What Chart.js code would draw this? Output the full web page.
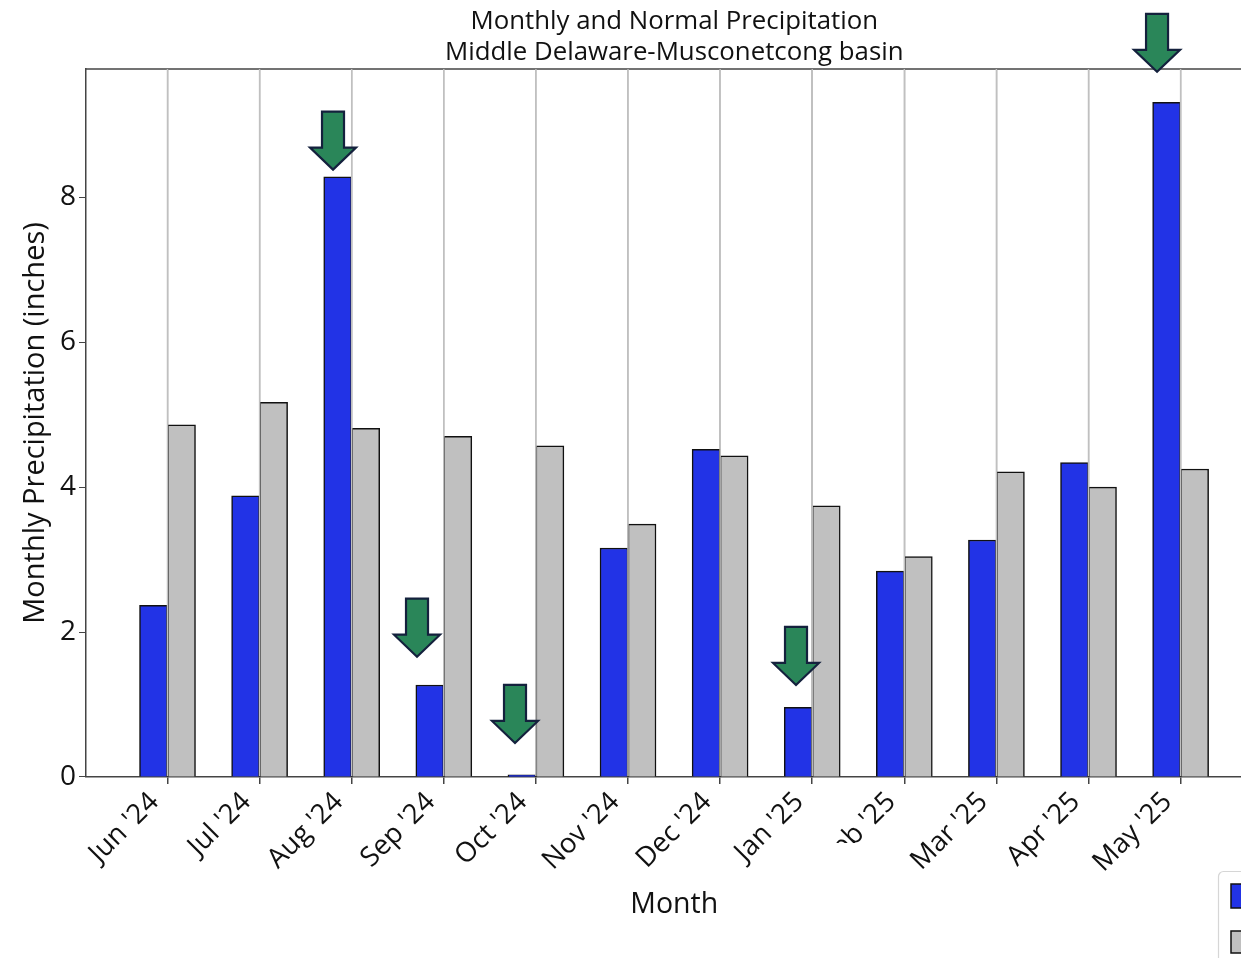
<!DOCTYPE html>
<html>
<head>
<meta charset="utf-8">
<title>Monthly and Normal Precipitation</title>
<script src="https://cdn.jsdelivr.net/npm/chart.js@4"></script>
<style>
  html, body { margin: 0; padding: 0; background: #fff; overflow: hidden; width: 1241px; height: 958px; }
  canvas { display: block; }
</style>
</head>
<body>
<canvas id="grafico" width="1300" height="1000"></canvas>
<script>
const meses = ["Jun '24", "Jul '24", "Aug '24", "Sep '24", "Oct '24", "Nov '24", "Dec '24", "Jan '25", "Feb '25", "Mar '25", "Apr '25", "May '25"];
const mensual = [2.37, 3.88, 8.28, 1.27, 0.03, 3.16, 4.52, 0.96, 2.84, 3.27, 4.34, 9.31];
const normal = [4.86, 5.17, 4.81, 4.70, 4.57, 3.49, 4.43, 3.74, 3.04, 4.21, 4.00, 4.25];
const valoresY = [0, 2, 4, 6, 8];

// flechas: punta de cada una en unidades de los ejes
const flechaX = [1.797, 2.709, 3.773, 6.824, 10.744];
const flechaY = [8.38, 1.66, 0.47, 1.27, 9.73];

const fuente = '"Open Sans", sans-serif';

const marco = {
  id: 'marco',
  // linea superior del marco
  beforeDatasetsDraw(chart) {
    const { ctx, chartArea } = chart;
    ctx.save();
    ctx.strokeStyle = '#444';
    ctx.lineWidth = 1.5;
    ctx.beginPath();
    ctx.moveTo(chartArea.left, chartArea.top);
    ctx.lineTo(chartArea.right, chartArea.top);
    ctx.stroke();
    ctx.restore();
  },
  // las lineas de la grilla pasan por encima de las barras
  afterDatasetsDraw(chart) {
    const { ctx, chartArea, scales } = chart;
    ctx.save();
    ctx.strokeStyle = '#c0c0c0';
    ctx.lineWidth = 1.5;
    meses.forEach((m, i) => {
      const x = scales.x.getPixelForValue(i);
      ctx.beginPath();
      ctx.moveTo(x, chartArea.top);
      ctx.lineTo(x, chartArea.bottom - 1);
      ctx.stroke();
    });
    ctx.restore();
  }
};

// la imagen original tapa parte de la etiqueta de febrero, y trae la leyenda cortada
const recortes = {
  id: 'recortes',
  afterDraw(chart) {
    const ctx = chart.ctx;
    ctx.save();
    ctx.fillStyle = '#fff';
    ctx.fillRect(790, 843, 100, 40);

    ctx.strokeStyle = '#d6d6d6';
    ctx.lineWidth = 1.2;
    ctx.beginPath();
    ctx.roundRect(1218.5, 871.5, 200, 120, 5);
    ctx.fillStyle = '#fff';
    ctx.fill();
    ctx.stroke();

    const ds = chart.data.datasets;
    ctx.strokeStyle = '#111';
    ctx.lineWidth = 1.5;
    ctx.fillStyle = ds[0].backgroundColor;
    ctx.fillRect(1231, 884, 40, 24);
    ctx.strokeRect(1231, 884, 40, 24);
    ctx.fillStyle = ds[1].backgroundColor;
    ctx.fillRect(1231, 931, 40, 22);
    ctx.strokeRect(1231, 931, 40, 22);
    ctx.restore();
  }
};

const flechas = {
  id: 'flechas',
  afterDraw(chart) {
    const { ctx, scales } = chart;
    ctx.save();
    ctx.fillStyle = '#2a8659';
    ctx.strokeStyle = '#14213d';
    ctx.lineWidth = 2.2;
    ctx.lineJoin = 'miter';
    flechaX.forEach((fx, i) => {
      const x = scales.x.getPixelForValue(fx);
      const y = scales.y.getPixelForValue(flechaY[i]);
      ctx.beginPath();
      ctx.moveTo(x, y);
      ctx.lineTo(x - 23, y - 22);
      ctx.lineTo(x - 11, y - 22);
      ctx.lineTo(x - 11, y - 58);
      ctx.lineTo(x + 11, y - 58);
      ctx.lineTo(x + 11, y - 22);
      ctx.lineTo(x + 23, y - 22);
      ctx.closePath();
      ctx.fill();
      ctx.stroke();
    });
    ctx.restore();
  }
};

const graficoConversion = document.getElementById('grafico');
const graficoChart = new Chart(graficoConversion, {
  type: 'bar',
  data: {
    datasets: [{
      label: 'Monthly Precipitation',
      data: mensual.map((v, i) => ({ x: i, y: v })),
      backgroundColor: '#2233e6',
      borderColor: '#111',
      borderWidth: 1.5,
      barThickness: 28
    }, {
      label: 'Normal Precipitation',
      data: normal.map((v, i) => ({ x: i, y: v })),
      backgroundColor: '#c0c0c0',
      borderColor: '#111',
      borderWidth: 1.5,
      barThickness: 28
    }]
  },
  options: {
    responsive: false,
    animation: false,
    layout: { padding: { top: 0, right: 37.5, bottom: 0, left: 0 } },
    plugins: {
      legend: { display: false },
      tooltip: { enabled: false },
      title: {
        display: true,
        text: ['Monthly and Normal Precipitation', 'Middle Delaware-Musconetcong basin'],
        color: '#111',
        font: { family: fuente, size: 25.8, weight: 'normal', lineHeight: 1.2 },
        padding: { top: 6, bottom: 1 },
        fullSize: false
      }
    },
    scales: {
      x: {
        type: 'linear',
        offset: false,
        min: -0.885,
        max: 11.889,
        afterBuildTicks(scale) {
          scale.ticks = meses.map((m, i) => ({ value: i }));
        },
        afterFit(scale) { scale.height = 223; },
        ticks: {
          autoSkip: false,
          maxRotation: 45,
          minRotation: 45,
          color: '#111',
          padding: 2,
          labelOffset: -13,
          font: { family: fuente, size: 27.5 },
          callback: (v) => meses[v]
        },
        grid: { offset: false, color: '#c0c0c0', lineWidth: 1.5, tickColor: '#444', tickLength: 7 },
        border: { color: '#444', width: 1.5 },
        title: {
          display: true,
          text: 'Month',
          color: '#111',
          font: { family: fuente, size: 28.5 },
          padding: { top: 0, bottom: 78 }
        }
      },
      y: {
        min: 0,
        max: 9.77,
        afterBuildTicks(scale) {
          scale.ticks = valoresY.map(v => ({ value: v }));
        },
        afterFit(scale) { scale.width = 86; },
        ticks: {
          color: '#111',
          padding: 3,
          font: { family: fuente, size: 28 }
        },
        grid: { drawOnChartArea: false, tickColor: '#444', tickLength: 7 },
        border: { color: '#444', width: 1.5 },
        title: {
          display: true,
          text: 'Monthly Precipitation (inches)',
          color: '#111',
          font: { family: fuente, size: 29 },
          padding: { top: 18, bottom: 0 }
        }
      }
    }
  },
  plugins: [marco, recortes, flechas]
});
</script>
</body>
</html>
